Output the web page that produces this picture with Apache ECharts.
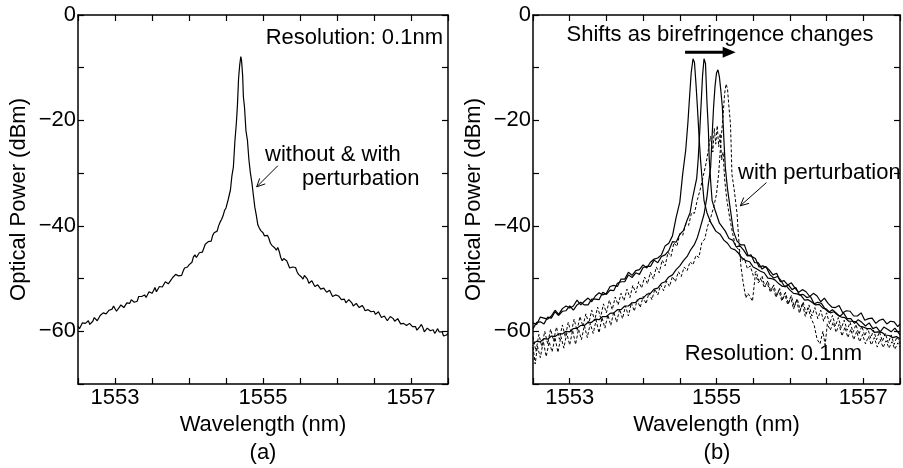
<!DOCTYPE html>
<html><head><meta charset="utf-8">
<script src="https://cdn.jsdelivr.net/npm/echarts@6.0.0/dist/echarts.min.js"></script>
<style>html,body{margin:0;padding:0;background:#fff}#c{width:903px;height:468px}</style>
</head><body><div id="c"></div>
<script>
// ---- tick labels ----
const xLabels = [1553, 1555, 1557];
const yLabels = [0, -20, -40, -60];

// ---- panel (a): single spectrum (without & with perturbation) ----
const specA = [[1552.50,-59.0],[1552.52,-59.5],[1552.54,-59.4],[1552.56,-58.4],[1552.58,-58.1],[1552.60,-58.5],[1552.62,-58.4],[1552.64,-58.0],[1552.66,-58.7],[1552.68,-58.8],[1552.70,-58.1],[1552.72,-57.4],[1552.74,-57.1],[1552.76,-58.0],[1552.78,-57.9],[1552.80,-57.0],[1552.82,-56.7],[1552.84,-56.5],[1552.86,-56.2],[1552.88,-56.7],[1552.90,-56.6],[1552.92,-56.0],[1552.94,-56.2],[1552.96,-55.8],[1552.98,-55.2],[1553.00,-55.4],[1553.02,-56.2],[1553.04,-56.3],[1553.06,-55.4],[1553.08,-55.0],[1553.10,-54.9],[1553.12,-55.5],[1553.14,-55.6],[1553.16,-54.6],[1553.18,-54.5],[1553.20,-54.7],[1553.22,-54.0],[1553.24,-54.2],[1553.26,-54.5],[1553.28,-54.7],[1553.30,-54.3],[1553.32,-53.4],[1553.34,-53.2],[1553.36,-53.4],[1553.38,-53.2],[1553.40,-53.1],[1553.42,-53.6],[1553.44,-53.6],[1553.46,-52.5],[1553.48,-52.5],[1553.50,-52.8],[1553.52,-52.3],[1553.54,-51.7],[1553.56,-52.5],[1553.58,-52.4],[1553.60,-51.5],[1553.62,-51.5],[1553.64,-51.6],[1553.66,-51.4],[1553.68,-50.6],[1553.70,-50.4],[1553.72,-51.0],[1553.74,-51.0],[1553.76,-50.2],[1553.78,-49.8],[1553.80,-50.0],[1553.82,-49.2],[1553.84,-49.0],[1553.86,-49.5],[1553.88,-49.7],[1553.90,-49.4],[1553.92,-48.6],[1553.94,-48.0],[1553.96,-48.3],[1553.98,-47.8],[1554.00,-47.4],[1554.02,-47.6],[1554.04,-46.9],[1554.06,-45.9],[1554.08,-45.5],[1554.10,-46.0],[1554.12,-45.9],[1554.14,-45.1],[1554.16,-44.9],[1554.18,-45.0],[1554.20,-44.7],[1554.22,-43.5],[1554.24,-43.2],[1554.26,-43.0],[1554.28,-43.2],[1554.30,-42.9],[1554.32,-41.8],[1554.34,-41.3],[1554.36,-41.5],[1554.38,-41.0],[1554.40,-40.0],[1554.42,-39.3],[1554.44,-38.8],[1554.46,-38.1],[1554.48,-37.1],[1554.50,-36.6],[1554.53,-35.0],[1554.56,-33.2],[1554.58,-30.5],[1554.60,-28.8],[1554.62,-24.0],[1554.64,-20.5],[1554.655,-17.0],[1554.67,-12.0],[1554.685,-9.5],[1554.70,-7.9],[1554.71,-8.6],[1554.725,-11.5],[1554.735,-15.5],[1554.75,-17.5],[1554.77,-22.0],[1554.79,-23.8],[1554.81,-27.5],[1554.83,-30.0],[1554.85,-31.8],[1554.87,-34.2],[1554.89,-36.5],[1554.91,-38.0],[1554.93,-39.8],[1554.95,-40.4],[1554.97,-40.9],[1555.00,-41.3],[1555.02,-41.9],[1555.04,-41.9],[1555.06,-41.8],[1555.08,-42.4],[1555.10,-43.3],[1555.12,-43.7],[1555.14,-43.5],[1555.16,-44.2],[1555.18,-44.6],[1555.20,-44.1],[1555.22,-44.9],[1555.24,-46.0],[1555.26,-46.6],[1555.28,-46.2],[1555.30,-46.1],[1555.32,-46.6],[1555.34,-47.3],[1555.36,-48.0],[1555.38,-48.2],[1555.40,-47.8],[1555.42,-47.5],[1555.44,-47.9],[1555.46,-48.7],[1555.48,-49.2],[1555.50,-49.2],[1555.52,-49.7],[1555.54,-50.1],[1555.56,-49.4],[1555.58,-49.6],[1555.60,-50.1],[1555.62,-50.9],[1555.64,-51.2],[1555.66,-50.4],[1555.68,-50.6],[1555.70,-51.5],[1555.72,-51.5],[1555.74,-51.2],[1555.76,-51.0],[1555.78,-52.0],[1555.80,-52.3],[1555.82,-51.8],[1555.84,-52.1],[1555.86,-52.6],[1555.88,-52.6],[1555.90,-52.2],[1555.92,-52.3],[1555.94,-53.4],[1555.96,-53.5],[1555.98,-53.1],[1556.00,-53.1],[1556.02,-53.3],[1556.04,-53.1],[1556.06,-54.0],[1556.08,-54.1],[1556.10,-53.9],[1556.12,-54.6],[1556.14,-54.4],[1556.16,-54.0],[1556.18,-54.0],[1556.20,-54.6],[1556.22,-55.2],[1556.24,-55.2],[1556.26,-54.7],[1556.28,-54.5],[1556.30,-55.5],[1556.32,-55.5],[1556.34,-55.1],[1556.36,-55.5],[1556.38,-56.1],[1556.40,-56.3],[1556.42,-55.9],[1556.44,-55.6],[1556.46,-56.3],[1556.48,-56.1],[1556.50,-56.2],[1556.52,-56.8],[1556.54,-56.7],[1556.56,-56.3],[1556.58,-56.4],[1556.60,-57.4],[1556.62,-57.6],[1556.64,-57.1],[1556.66,-57.4],[1556.68,-58.0],[1556.70,-58.0],[1556.72,-57.2],[1556.74,-57.3],[1556.76,-57.6],[1556.78,-58.1],[1556.80,-58.2],[1556.82,-57.6],[1556.84,-57.6],[1556.86,-58.6],[1556.88,-58.9],[1556.90,-58.5],[1556.92,-58.5],[1556.94,-58.9],[1556.96,-59.0],[1556.98,-58.5],[1557.00,-58.4],[1557.02,-59.1],[1557.04,-59.2],[1557.06,-59.1],[1557.08,-59.8],[1557.10,-59.7],[1557.12,-59.1],[1557.14,-58.7],[1557.16,-59.3],[1557.18,-60.1],[1557.20,-60.0],[1557.22,-59.4],[1557.24,-59.2],[1557.26,-59.9],[1557.28,-59.6],[1557.30,-59.7],[1557.32,-60.4],[1557.34,-60.0],[1557.36,-59.5],[1557.38,-60.1],[1557.40,-60.1],[1557.42,-60.1],[1557.44,-60.9],[1557.46,-60.9],[1557.48,-60.7],[1557.50,-60.4]];

// ---- panel (b): spectra as birefringence changes (solid) and with perturbation (dashed) ----
const specB1 = [[1552.50,-58.4],[1552.55,-58.7],[1552.60,-57.3],[1552.65,-57.5],[1552.70,-57.7],[1552.75,-57.1],[1552.80,-56.0],[1552.85,-56.8],[1552.90,-55.7],[1552.95,-55.2],[1553.00,-55.6],[1553.05,-55.2],[1553.10,-54.1],[1553.15,-55.0],[1553.20,-54.3],[1553.25,-53.7],[1553.30,-54.4],[1553.35,-53.3],[1553.40,-52.7],[1553.45,-53.1],[1553.50,-52.8],[1553.55,-51.5],[1553.60,-51.3],[1553.65,-51.5],[1553.70,-50.1],[1553.75,-50.1],[1553.80,-48.8],[1553.85,-49.4],[1553.90,-48.5],[1553.95,-48.3],[1554.00,-47.4],[1554.05,-48.0],[1554.10,-46.9],[1554.15,-46.3],[1554.20,-46.1],[1554.25,-45.5],[1554.30,-43.8],[1554.35,-43.3],[1554.40,-41.9],[1554.45,-38.4],[1554.50,-35.5],[1554.54,-30.1],[1554.58,-25.7],[1554.61,-20.5],[1554.63,-16.2],[1554.655,-11.0],[1554.68,-8.3],[1554.70,-9.0],[1554.72,-13.0],[1554.74,-17.5],[1554.76,-22.5],[1554.78,-27.0],[1554.80,-30.5],[1554.83,-35.2],[1554.87,-37.5],[1554.92,-39.3],[1554.99,-41.0],[1555.05,-41.6],[1555.10,-42.7],[1555.15,-43.3],[1555.20,-44.3],[1555.25,-44.5],[1555.30,-45.2],[1555.35,-46.1],[1555.40,-46.6],[1555.45,-46.8],[1555.50,-47.8],[1555.55,-48.2],[1555.60,-48.6],[1555.65,-48.9],[1555.70,-49.9],[1555.75,-50.0],[1555.80,-50.3],[1555.85,-51.0],[1555.90,-51.5],[1555.95,-51.4],[1556.00,-52.2],[1556.05,-52.8],[1556.10,-52.9],[1556.15,-53.2],[1556.20,-54.1],[1556.25,-54.0],[1556.30,-54.5],[1556.35,-55.0],[1556.40,-54.9],[1556.45,-55.6],[1556.50,-55.8],[1556.55,-56.5],[1556.60,-56.3],[1556.65,-56.9],[1556.70,-57.3],[1556.75,-57.4],[1556.80,-58.1],[1556.85,-58.1],[1556.90,-58.2],[1556.95,-59.0],[1557.00,-59.2],[1557.05,-59.5],[1557.10,-59.5],[1557.15,-60.2],[1557.20,-60.1],[1557.25,-60.2],[1557.30,-60.7],[1557.35,-60.8],[1557.40,-61.2],[1557.45,-61.0],[1557.50,-61.4]];

const specB2 = [[1552.50,-59.5],[1552.55,-58.3],[1552.60,-58.2],[1552.65,-58.6],[1552.70,-57.3],[1552.75,-57.5],[1552.80,-56.3],[1552.85,-57.0],[1552.90,-56.2],[1552.95,-56.1],[1553.00,-55.2],[1553.05,-56.0],[1553.10,-55.0],[1553.15,-54.5],[1553.20,-55.0],[1553.25,-55.0],[1553.30,-53.9],[1553.35,-53.9],[1553.40,-54.0],[1553.45,-52.6],[1553.50,-53.0],[1553.55,-52.2],[1553.60,-52.3],[1553.65,-50.9],[1553.70,-50.6],[1553.75,-50.6],[1553.80,-49.3],[1553.85,-49.8],[1553.90,-48.9],[1553.95,-49.2],[1554.00,-47.9],[1554.05,-47.7],[1554.10,-47.7],[1554.15,-46.5],[1554.20,-47.0],[1554.25,-45.8],[1554.30,-45.5],[1554.35,-44.7],[1554.40,-43.0],[1554.45,-43.1],[1554.50,-41.6],[1554.55,-40.9],[1554.60,-38.9],[1554.64,-37.5],[1554.67,-35.0],[1554.70,-33.0],[1554.73,-31.0],[1554.75,-27.5],[1554.77,-22.5],[1554.79,-17.0],[1554.81,-11.5],[1554.83,-8.3],[1554.85,-9.2],[1554.87,-16.5],[1554.89,-22.0],[1554.90,-27.0],[1554.92,-31.5],[1554.94,-35.2],[1554.98,-37.0],[1555.04,-39.5],[1555.12,-41.0],[1555.17,-42.4],[1555.22,-42.7],[1555.27,-44.0],[1555.32,-43.8],[1555.37,-44.6],[1555.42,-45.7],[1555.47,-45.5],[1555.52,-47.0],[1555.57,-47.0],[1555.62,-48.2],[1555.67,-47.7],[1555.72,-48.4],[1555.77,-49.3],[1555.82,-49.0],[1555.87,-50.6],[1555.92,-50.4],[1555.97,-51.2],[1556.02,-50.8],[1556.07,-51.8],[1556.12,-52.6],[1556.17,-52.1],[1556.22,-52.5],[1556.27,-53.4],[1556.32,-52.8],[1556.37,-53.3],[1556.42,-54.4],[1556.47,-53.7],[1556.52,-54.7],[1556.57,-55.4],[1556.62,-55.5],[1556.67,-55.1],[1556.72,-56.5],[1556.77,-56.1],[1556.82,-56.2],[1556.87,-57.1],[1556.92,-57.1],[1556.97,-56.5],[1557.02,-57.9],[1557.07,-57.6],[1557.12,-57.5],[1557.17,-58.5],[1557.22,-57.9],[1557.27,-57.7],[1557.32,-58.6],[1557.37,-58.1],[1557.42,-58.2],[1557.47,-59.1],[1557.50,-58.6]];

const specB3 = [[1552.50,-62.3],[1552.55,-61.9],[1552.60,-62.0],[1552.65,-61.4],[1552.70,-61.5],[1552.75,-60.9],[1552.80,-61.0],[1552.85,-60.5],[1552.90,-60.5],[1552.95,-60.0],[1553.00,-60.1],[1553.05,-59.5],[1553.10,-59.4],[1553.15,-58.9],[1553.20,-58.9],[1553.25,-58.3],[1553.30,-58.3],[1553.35,-57.7],[1553.40,-57.8],[1553.45,-57.2],[1553.50,-57.2],[1553.55,-56.6],[1553.60,-56.5],[1553.65,-55.9],[1553.70,-55.9],[1553.75,-55.2],[1553.80,-55.2],[1553.85,-54.6],[1553.90,-54.5],[1553.95,-53.8],[1554.00,-53.7],[1554.05,-53.0],[1554.10,-52.8],[1554.15,-52.0],[1554.20,-51.8],[1554.25,-50.9],[1554.30,-50.6],[1554.35,-49.7],[1554.40,-49.3],[1554.45,-48.3],[1554.50,-47.6],[1554.55,-46.6],[1554.60,-45.8],[1554.65,-44.5],[1554.70,-43.5],[1554.74,-42.2],[1554.78,-40.3],[1554.83,-37.8],[1554.87,-34.5],[1554.89,-32.0],[1554.92,-28.9],[1554.94,-23.0],[1554.96,-17.5],[1554.98,-13.5],[1555.00,-11.0],[1555.02,-10.4],[1555.04,-11.8],[1555.06,-14.5],[1555.08,-17.5],[1555.10,-23.5],[1555.12,-28.9],[1555.15,-33.0],[1555.18,-36.0],[1555.23,-41.0],[1555.28,-42.9],[1555.33,-43.6],[1555.38,-43.6],[1555.43,-45.6],[1555.48,-45.8],[1555.53,-46.2],[1555.58,-47.8],[1555.63,-47.6],[1555.68,-47.9],[1555.73,-49.3],[1555.78,-49.9],[1555.83,-49.6],[1555.88,-50.4],[1555.93,-51.6],[1555.98,-51.2],[1556.03,-52.1],[1556.08,-51.7],[1556.13,-53.1],[1556.18,-53.0],[1556.23,-53.6],[1556.28,-53.4],[1556.33,-54.8],[1556.38,-54.5],[1556.43,-54.7],[1556.48,-55.8],[1556.53,-56.4],[1556.58,-55.9],[1556.63,-56.5],[1556.68,-57.2],[1556.73,-56.5],[1556.78,-57.6],[1556.83,-57.6],[1556.88,-58.5],[1556.93,-57.8],[1556.98,-58.3],[1557.03,-59.0],[1557.08,-58.4],[1557.13,-59.5],[1557.18,-59.2],[1557.23,-60.1],[1557.28,-59.2],[1557.33,-59.6],[1557.38,-60.1],[1557.43,-59.4],[1557.50,-60.7]];

const specPert1 = [[1552.50,-63.0],[1552.53,-66.2],[1552.56,-62.8],[1552.60,-65.0],[1552.64,-61.9],[1552.68,-64.8],[1552.72,-62.0],[1552.76,-63.9],[1552.80,-61.2],[1552.84,-64.0],[1552.88,-61.0],[1552.92,-63.2],[1552.96,-60.4],[1553.00,-62.6],[1553.04,-59.8],[1553.08,-62.5],[1553.12,-59.6],[1553.16,-61.6],[1553.20,-58.9],[1553.24,-61.2],[1553.28,-58.5],[1553.32,-60.4],[1553.36,-57.9],[1553.40,-60.3],[1553.44,-57.4],[1553.48,-59.4],[1553.52,-56.9],[1553.56,-58.9],[1553.60,-56.3],[1553.64,-58.3],[1553.68,-55.8],[1553.72,-57.6],[1553.76,-55.2],[1553.80,-57.1],[1553.84,-54.6],[1553.88,-56.2],[1553.92,-54.0],[1553.96,-55.5],[1554.00,-53.4],[1554.04,-54.8],[1554.08,-52.7],[1554.12,-54.0],[1554.16,-52.0],[1554.20,-53.1],[1554.24,-51.2],[1554.28,-52.3],[1554.32,-50.5],[1554.36,-51.5],[1554.40,-49.6],[1554.44,-50.6],[1554.48,-48.7],[1554.52,-49.6],[1554.56,-47.8],[1554.60,-48.5],[1554.64,-46.8],[1554.68,-47.4],[1554.72,-45.6],[1554.76,-46.0],[1554.80,-43.2],[1554.84,-42.5],[1554.88,-40.0],[1554.92,-38.5],[1554.96,-36.5],[1555.00,-34.0],[1555.03,-30.0],[1555.06,-24.0],[1555.09,-19.0],[1555.11,-15.0],[1555.13,-13.1],[1555.15,-14.0],[1555.17,-17.5],[1555.19,-20.6],[1555.20,-25.0],[1555.21,-30.2],[1555.24,-33.0],[1555.28,-37.7],[1555.30,-42.0],[1555.33,-47.3],[1555.36,-50.5],[1555.40,-53.7],[1555.43,-52.8],[1555.45,-53.0],[1555.49,-54.3],[1555.53,-49.1],[1555.57,-50.8],[1555.61,-50.2],[1555.65,-51.6],[1555.69,-50.8],[1555.73,-52.4],[1555.77,-51.5],[1555.81,-53.6],[1555.85,-52.2],[1555.89,-54.3],[1555.93,-52.8],[1555.97,-55.0],[1556.01,-53.5],[1556.05,-55.8],[1556.09,-54.0],[1556.13,-56.6],[1556.17,-54.7],[1556.21,-57.2],[1556.25,-55.6],[1556.29,-57.6],[1556.33,-58.8],[1556.37,-61.5],[1556.41,-62.4],[1556.45,-60.0],[1556.48,-62.6],[1556.51,-58.6],[1556.55,-59.8],[1556.59,-58.3],[1556.63,-60.2],[1556.67,-58.7],[1556.71,-60.9],[1556.75,-59.2],[1556.79,-61.2],[1556.83,-59.6],[1556.87,-61.6],[1556.91,-60.0],[1556.95,-62.0],[1556.99,-60.6],[1557.03,-62.4],[1557.07,-61.0],[1557.11,-62.6],[1557.15,-61.2],[1557.19,-63.0],[1557.23,-61.5],[1557.27,-63.1],[1557.31,-61.8],[1557.35,-63.2],[1557.39,-62.0],[1557.43,-63.4],[1557.47,-62.2],[1557.50,-63.0]];

const specPert2 = [[1552.50,-61.0],[1552.54,-63.8],[1552.58,-60.6],[1552.62,-62.9],[1552.66,-60.0],[1552.70,-62.4],[1552.74,-59.6],[1552.78,-61.8],[1552.82,-59.2],[1552.86,-61.5],[1552.90,-58.8],[1552.94,-61.0],[1552.98,-58.3],[1553.02,-60.3],[1553.06,-57.7],[1553.10,-59.9],[1553.14,-57.2],[1553.18,-59.1],[1553.22,-56.7],[1553.26,-58.5],[1553.30,-56.0],[1553.34,-58.0],[1553.38,-55.4],[1553.42,-57.4],[1553.46,-54.8],[1553.50,-56.5],[1553.54,-54.1],[1553.58,-55.9],[1553.62,-53.5],[1553.66,-55.0],[1553.70,-52.8],[1553.74,-54.2],[1553.78,-52.0],[1553.82,-53.6],[1553.86,-51.3],[1553.90,-52.7],[1553.94,-50.6],[1553.98,-51.8],[1554.02,-49.7],[1554.06,-51.0],[1554.10,-48.8],[1554.14,-50.1],[1554.18,-47.8],[1554.22,-48.9],[1554.26,-46.5],[1554.30,-47.6],[1554.34,-45.0],[1554.38,-45.8],[1554.42,-43.2],[1554.46,-43.9],[1554.50,-41.5],[1554.54,-41.8],[1554.58,-39.6],[1554.62,-39.9],[1554.66,-37.5],[1554.70,-37.6],[1554.74,-35.0],[1554.78,-33.0],[1554.82,-30.5],[1554.86,-28.0],[1554.89,-25.5],[1554.92,-23.0],[1554.95,-26.0],[1554.97,-21.5],[1554.99,-24.5],[1555.01,-21.0],[1555.03,-25.0],[1555.05,-22.5],[1555.07,-27.5],[1555.09,-26.0],[1555.11,-31.0],[1555.14,-35.0],[1555.18,-38.5],[1555.22,-41.5],[1555.26,-43.8],[1555.30,-44.5],[1555.34,-46.6],[1555.38,-46.2],[1555.42,-48.1],[1555.46,-47.6],[1555.50,-49.4],[1555.54,-48.6],[1555.58,-50.6],[1555.62,-49.5],[1555.66,-51.6],[1555.70,-50.4],[1555.74,-52.5],[1555.78,-51.2],[1555.82,-53.3],[1555.86,-51.9],[1555.90,-54.1],[1555.94,-52.6],[1555.98,-54.8],[1556.02,-53.2],[1556.06,-55.4],[1556.10,-53.8],[1556.14,-56.0],[1556.18,-54.4],[1556.22,-56.6],[1556.26,-55.0],[1556.30,-57.1],[1556.34,-55.5],[1556.38,-57.6],[1556.42,-56.0],[1556.46,-58.1],[1556.50,-56.5],[1556.54,-58.6],[1556.58,-57.0],[1556.62,-59.0],[1556.66,-57.4],[1556.70,-59.4],[1556.74,-57.9],[1556.78,-59.8],[1556.82,-58.3],[1556.86,-60.2],[1556.90,-58.7],[1556.94,-60.6],[1556.98,-59.0],[1557.02,-60.9],[1557.06,-59.4],[1557.10,-61.3],[1557.14,-59.8],[1557.18,-61.6],[1557.22,-60.1],[1557.26,-61.9],[1557.30,-60.4],[1557.34,-62.2],[1557.38,-60.7],[1557.42,-62.5],[1557.46,-61.0],[1557.50,-62.3]];

// ---- rendering ----
const FONT = '"Liberation Sans", Arial, Helvetica, sans-serif';
const FS = 22;
const chart = echarts.init(document.getElementById('c'), null, {renderer: 'canvas'});

const minus = v => (v < 0 ? '\u2212' + Math.abs(v) : String(v));
function xAxisPair(gi) {
  const base = {
    type: 'value', gridIndex: gi, min: 1552.5, max: 1557.5, interval: 0.5,
    axisLine: {show: true, onZero: false, lineStyle: {color: '#000', width: 1.5}},
    axisTick: {show: true, inside: true, length: 6, lineStyle: {color: '#000', width: 1.2}},
    splitLine: {show: false}
  };
  return [
    Object.assign({}, base, {
      position: 'bottom',
      axisLabel: {show: true, margin: 3, color: '#000', fontSize: FS, fontFamily: FONT,
        formatter: v => (xLabels.indexOf(Math.round(v * 100) / 100) >= 0 ? String(v) : '')},
      name: 'Wavelength (nm)', nameLocation: 'middle', nameGap: 29,
      nameTextStyle: {color: '#000', fontSize: FS, fontFamily: FONT}
    }),
    Object.assign({}, base, {position: 'top', axisLabel: {show: false}})
  ];
}
function yAxisPair(gi) {
  const base = {
    type: 'value', gridIndex: gi, min: -70, max: 0, interval: 10,
    axisLine: {show: true, onZero: false, lineStyle: {color: '#000', width: 1.5}},
    axisTick: {show: true, inside: true, length: 6, lineStyle: {color: '#000', width: 1.2}},
    splitLine: {show: false}
  };
  return [
    Object.assign({}, base, {
      position: 'left',
      axisLabel: {show: true, margin: 2, color: '#000', fontSize: FS, fontFamily: FONT,
        formatter: v => (yLabels.indexOf(v) >= 0 ? minus(v) : '')},
      name: 'Optical Power (dBm)', nameLocation: 'middle', nameGap: 48, nameRotate: 90,
      nameTextStyle: {color: '#000', fontSize: FS, fontFamily: FONT}
    }),
    Object.assign({}, base, {position: 'right', axisLabel: {show: false}})
  ];
}

function lineSeries(data, xi, yi, dashed) {
  return {
    type: 'line', data: data, xAxisIndex: xi, yAxisIndex: yi,
    showSymbol: false, symbol: 'none', silent: true, clip: true,
    lineStyle: {color: '#000', width: dashed ? 1.0 : 1.2, type: dashed ? [3, 2] : 'solid'},
    z: 3
  };
}

chart.setOption({
  animation: false,
  backgroundColor: '#fff',
  grid: [
    {left: 78, top: 15, width: 370, height: 369},
    {left: 533, top: 15, width: 369, height: 369}
  ],
  xAxis: xAxisPair(0).concat(xAxisPair(1)),
  yAxis: yAxisPair(0).concat(yAxisPair(1)),
  series: [
    lineSeries(specA, 0, 0, false),
    lineSeries(specB1, 2, 2, false),
    lineSeries(specB2, 2, 2, false),
    lineSeries(specB3, 2, 2, false),
    lineSeries(specPert1, 2, 2, true),
    lineSeries(specPert2, 2, 2, true)
  ]
});

// ---- annotations (anchored in data coordinates) ----
const annot = {
  a: {arrowFrom: [1555.20, -28.6], arrowTo: [1554.915, -32.6]},
  b: {arrowFrom: [1555.68, -31.8], arrowTo: [1555.324, -36.2],
      shiftFrom: [1554.572, -7.05], shiftTo: [1555.261, -7.05]}
};
const pA = p => chart.convertToPixel({seriesIndex: 0}, p);
const pB = p => chart.convertToPixel({seriesIndex: 1}, p);

function openArrow(from, to, len, half) {
  const dx = to[0] - from[0], dy = to[1] - from[1];
  const a = Math.atan2(dy, dx);
  const h1 = [to[0] - len * Math.cos(a - half), to[1] - len * Math.sin(a - half)];
  const h2 = [to[0] - len * Math.cos(a + half), to[1] - len * Math.sin(a + half)];
  return [
    {type: 'line', shape: {x1: from[0], y1: from[1], x2: to[0], y2: to[1]}, style: {stroke: '#000', lineWidth: 1}, z: 10},
    {type: 'polyline', shape: {points: [h1, to, h2]}, style: {stroke: '#000', lineWidth: 1, fill: null}, z: 10}
  ];
}
function thickArrow(from, to) {
  const hl = 13, hw = 5.5;
  return [
    {type: 'line', shape: {x1: from[0], y1: from[1], x2: to[0] - hl + 2, y2: to[1]}, style: {stroke: '#000', lineWidth: 3}, z: 10},
    {type: 'polygon', shape: {points: [[to[0], to[1]], [to[0] - hl, to[1] - hw], [to[0] - hl, to[1] + hw]]}, style: {fill: '#000'}, z: 10}
  ];
}
function txt(text, x, y, align) {
  return {type: 'text', x: x, y: y, z: 10,
    style: {text: text, fill: '#000', fontSize: FS, fontFamily: FONT, align: align || 'left', verticalAlign: 'middle'}};
}

const els = []
  .concat(openArrow(pA(annot.a.arrowFrom), pA(annot.a.arrowTo), 9, 0.45))
  .concat(openArrow(pB(annot.b.arrowFrom), pB(annot.b.arrowTo), 9, 0.45))
  .concat(thickArrow(pB(annot.b.shiftFrom), pB(annot.b.shiftTo)))
  .concat([
    txt('Resolution: 0.1nm', 443, 38, 'right'),
    txt('without & with', 265, 155, 'left'),
    txt('perturbation', 302, 179, 'left'),
    txt('Shifts as birefringence changes', 720, 35, 'center'),
    txt('with perturbation', 738, 173, 'left'),
    txt('Resolution: 0.1nm', 862, 354, 'right'),
    txt('(a)', 263, 453, 'center'),
    txt('(b)', 717, 453, 'center')
  ]);
chart.setOption({graphic: els});
</script></body></html>
